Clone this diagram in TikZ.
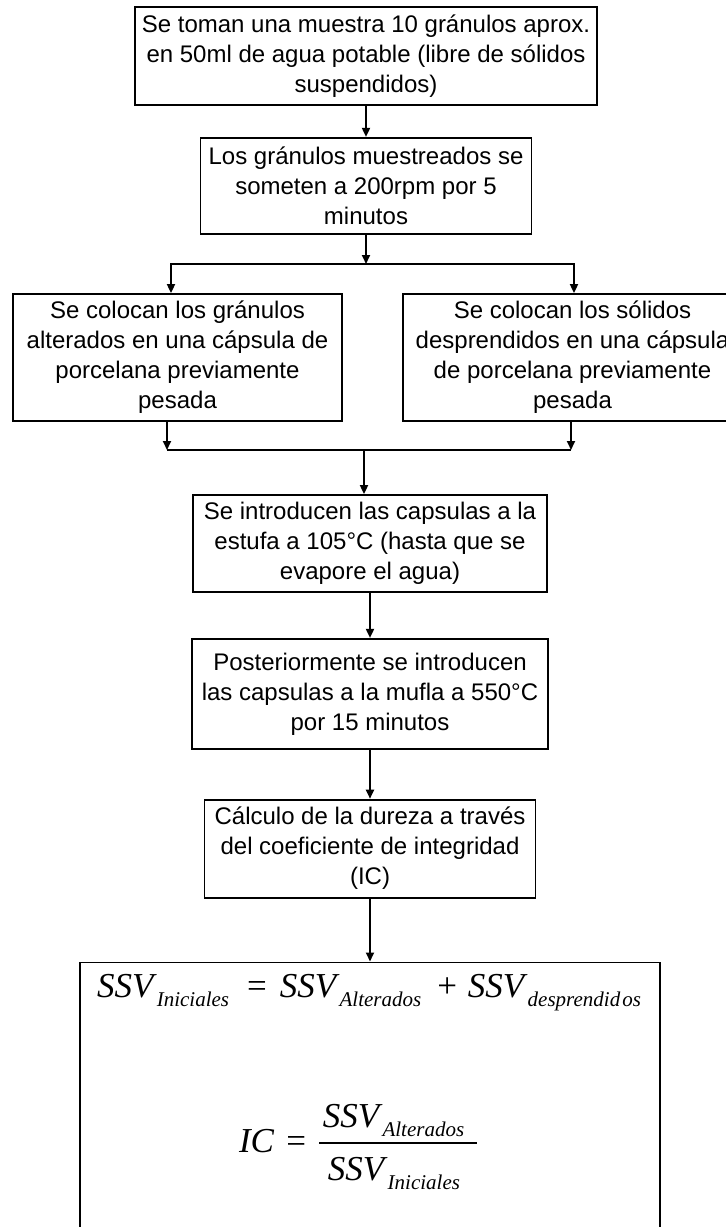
\documentclass[tikz,border=0pt]{standalone}
\usepackage{fontspec}
\setmainfont{Liberation Sans}
\newfontfamily\eqfont{Liberation Serif}
\usetikzlibrary{arrows.meta,positioning}
\newcommand{\ssv}[1]{\textit{SSV}\raisebox{-9pt}{\fontsize{21}{21}\selectfont\textit{#1}}}

\begin{document}
\begin{tikzpicture}[x=1pt,y=1pt,>={Triangle[length=9pt,width=8pt]},line width=1.8pt,node distance=32pt]
  \tikzstyle{caja}=[draw,rectangle,align=center,inner sep=3pt,font=\fontsize{24}{30}\selectfont]
  \tikzstyle{eqn}=[inner sep=0pt,font=\eqfont\fontsize{35}{40}\selectfont]

  \useasboundingbox (0,0) rectangle (726,-1227);
  \clip (0,0) rectangle (726,-1227);

  \node[caja,minimum width=462,minimum height=98] (toma) at (366,-56) {Se toman una muestra 10 gránulos aprox.\\en 50ml de agua potable (libre de sólidos\\suspendidos)};
  \node[caja,minimum width=331,minimum height=96] (centrif) [below=31pt of toma] {Los gránulos muestreados se\\someten a 200rpm por 5\\minutos};

  \node[caja,minimum width=329,minimum height=127] (granalt) at (177.5,-357.5) {Se colocan los gránulos\\alterados en una cápsula de\\porcelana previamente\\pesada};
  \node[caja,minimum width=339,minimum height=127] (solidos) at (572.5,-357.5) {Se colocan los sólidos\\desprendidos en una cápsula\\de porcelana previamente\\pesada};

  \node[caja,minimum width=354,minimum height=97] (estufa) at (370,-543.5) {Se introducen las capsulas a la\\estufa a 105°C (hasta que se\\evapore el agua)};
  \node[caja,minimum width=356,minimum height=110] (mufla) [below=45pt of estufa] {Posteriormente se introducen\\las capsulas a la mufla a 550°C\\por 15 minutos};
  \node[caja,minimum width=331,minimum height=98] (calculo) [below=49pt of mufla] {Cálculo de la dureza a través\\del coeficiente de integridad\\(IC)};
  \node[draw,minimum width=580,minimum height=300] (formula) [below=63pt of calculo] {};

  \node[eqn,anchor=base] (suma) at (369,-997) {\ssv{Iniciales}\hspace{18pt}=\hspace{13pt}\ssv{Alterados}\hspace{16pt}+\hspace{11pt}\ssv{desprendid\kern2pt os}};
  \node[eqn,anchor=base east] (ic) at (307,-1152) {\textit{IC}\hspace{12pt}=};
  \node[eqn,anchor=base] (num) at (393.5,-1127) {\ssv{Alterados}};
  \node[eqn,anchor=base] (den) at (394,-1180) {\ssv{Iniciales}};
  % raya de la fraccion
  \draw[line width=1.3pt] (319,-1143) -- (477,-1143);

  % ramas
  \coordinate (ramai) at (171,-264);
  \coordinate (ramad) at (574,-264);
  \coordinate (unei) at (167,-450);
  \coordinate (uned) at (571,-450);
  \coordinate (une) at (364,-450);

  \draw[->] (toma) -- (centrif);
  \draw[->] (centrif.south) -- (centrif.south |- ramai);
  \draw[<->] (ramai |- granalt.north) -- (ramai) -- (ramad) -- (ramad |- solidos.north);
  \draw[->] (granalt.south -| unei) -- (unei);
  \draw[->] (solidos.south -| uned) -- (uned);
  \draw (unei) -- (uned);
  \draw[->] (une) -- (une |- estufa.north);
  \draw[->] (estufa) -- (mufla);
  \draw[->] (mufla) -- (calculo);
  \draw[->] (calculo) -- (formula);
\end{tikzpicture}
\end{document}
